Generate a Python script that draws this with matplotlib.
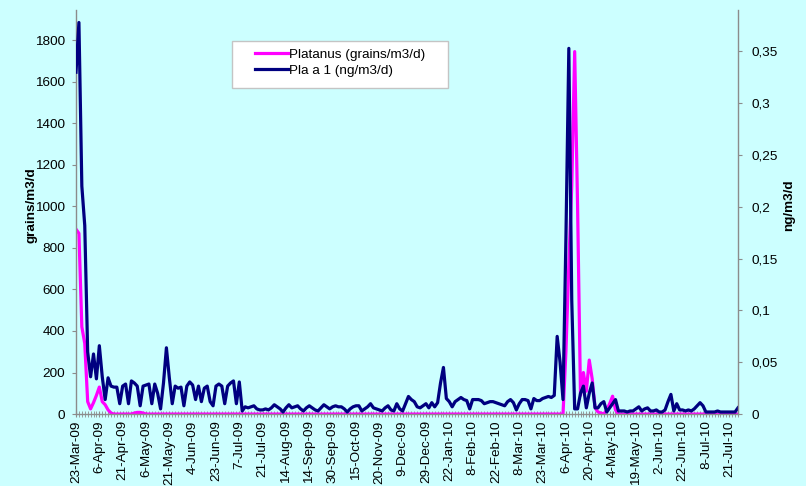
import matplotlib
matplotlib.use("Agg")
import matplotlib.pyplot as plt
from matplotlib.patches import Rectangle

plt.rcParams['font.family'] = ['Liberation Sans', 'DejaVu Sans']

# Colours
bg_color = '#CCFFFF'
axis_color = '#8C8C8C'
platanus_color = '#FF00FF'
pla_color = '#000080'

# Category labels shown every 8th sample
date_labels = ['23-Mar-09', '6-Apr-09', '21-Apr-09', '6-May-09', '21-May-09', '4-Jun-09',
               '23-Jun-09', '7-Jul-09', '21-Jul-09', '14-Aug-09', '14-Sep-09', '30-Sep-09',
               '15-Oct-09', '20-Nov-09', '9-Dec-09', '29-Dec-09', '22-Jan-10', '8-Feb-10',
               '22-Feb-10', '8-Mar-10', '23-Mar-10', '6-Apr-10', '20-Apr-10', '4-May-10',
               '19-May-10', '2-Jun-10', '22-Jun-10', '8-Jul-10', '21-Jul-10']
label_step = 8

# Platanus pollen (grains/m3/d), left axis
platanus = [
    890, 870, 420, 340, 60, 25, 55, 90, 130, 60, 45, 20, 5, 0, 0, 0,
    0, 0, 0, 0, 5, 8, 8, 5, 0, 0, 0, 0, 0, 0, 0, 0,
    0, 0, 0, 0, 0, 0, 0, 0, 0, 0, 0, 0, 0, 0, 0, 0,
    0, 0, 0, 0, 0, 0, 0, 0, 0, 0, 0, 0, 0, 0, 0, 0,
    0, 0, 0, 0, 0, 0, 0, 0, 0, 0, 0, 0, 0, 0, 0, 0,
    0, 0, 0, 0, 0, 0, 0, 0, 0, 0, 0, 0, 0, 0, 0, 0,
    0, 0, 0, 0, 0, 0, 0, 0, 0, 0, 0, 0, 0, 0, 0, 0,
    0, 0, 0, 0, 0, 0, 0, 0, 0, 0, 0, 0, 0, 0, 0, 0,
    0, 0, 0, 0, 0, 0, 0, 0, 0, 0, 0, 0, 0, 0, 0, 0,
    0, 0, 0, 0, 0, 0, 0, 0, 0, 0, 0, 0, 0, 0, 0, 0,
    0, 0, 0, 0, 0, 0, 0, 0, 300, 720, 1100, 1745, 1000, 90, 200, 110,
    260, 170, 30, 10, 5, 0, 20, 50, 86, 20, 0, 0, 0, 0, 0, 0,
    0, 0, 0, 0, 0, 0, 0, 0, 0, 0, 0, 0, 0, 0, 0, 0,
    0, 0, 0, 0, 0, 0, 0, 0, 0, 0, 0, 0, 0, 0, 0, 0,
    0, 0, 0, 0,
]

# Pla a 1 allergen (ng/m3/d), right axis
pla_a1 = [
    0.330, 0.378, 0.220, 0.182, 0.060, 0.036, 0.058, 0.034, 0.066, 0.036, 0.014, 0.035, 0.027, 0.026, 0.026, 0.010,
    0.027, 0.029, 0.010, 0.032, 0.030, 0.027, 0.008, 0.027, 0.028, 0.029, 0.010, 0.029, 0.020, 0.005, 0.030, 0.064,
    0.035, 0.010, 0.027, 0.025, 0.026, 0.008, 0.027, 0.031, 0.028, 0.014, 0.027, 0.012, 0.025, 0.027, 0.012, 0.008,
    0.027, 0.029, 0.027, 0.010, 0.027, 0.030, 0.032, 0.010, 0.031, 0.003, 0.007, 0.006, 0.007, 0.008, 0.005, 0.004,
    0.004, 0.005, 0.004, 0.006, 0.009, 0.007, 0.005, 0.002, 0.006, 0.009, 0.006, 0.007, 0.008, 0.005, 0.003, 0.006,
    0.008, 0.006, 0.004, 0.003, 0.006, 0.009, 0.007, 0.005, 0.007, 0.008, 0.007, 0.007, 0.005, 0.002, 0.005, 0.007,
    0.008, 0.008, 0.003, 0.005, 0.007, 0.010, 0.006, 0.005, 0.004, 0.003, 0.006, 0.008, 0.004, 0.003, 0.010, 0.005,
    0.003, 0.010, 0.017, 0.014, 0.012, 0.007, 0.006, 0.008, 0.010, 0.006, 0.011, 0.007, 0.011, 0.030, 0.045, 0.015,
    0.012, 0.007, 0.012, 0.014, 0.016, 0.014, 0.013, 0.005, 0.014, 0.014, 0.014, 0.013, 0.010, 0.011, 0.012, 0.012,
    0.011, 0.010, 0.009, 0.008, 0.012, 0.014, 0.011, 0.004, 0.010, 0.014, 0.014, 0.013, 0.005, 0.015, 0.013, 0.013,
    0.015, 0.016, 0.017, 0.016, 0.018, 0.075, 0.050, 0.014, 0.170, 0.353, 0.110, 0.005, 0.005, 0.020, 0.027, 0.006,
    0.020, 0.030, 0.006, 0.006, 0.010, 0.012, 0.002, 0.006, 0.010, 0.014, 0.003, 0.003, 0.003, 0.002, 0.003, 0.003,
    0.005, 0.007, 0.003, 0.005, 0.006, 0.003, 0.003, 0.004, 0.002, 0.002, 0.004, 0.012, 0.019, 0.003, 0.010, 0.004,
    0.004, 0.003, 0.004, 0.003, 0.005, 0.008, 0.011, 0.008, 0.002, 0.002, 0.002, 0.002, 0.003, 0.002, 0.002, 0.002,
    0.002, 0.002, 0.002, 0.006,
]

left_ticks = [0, 200, 400, 600, 800, 1000, 1200, 1400, 1600, 1800]
right_ticks = [0, 0.05, 0.1, 0.15, 0.2, 0.25, 0.3, 0.35]
right_tick_labels = ['0', '0,05', '0,1', '0,15', '0,2', '0,25', '0,3', '0,35']

x = list(range(len(platanus)))

fig = plt.figure(figsize=(8.06, 4.86), dpi=100, facecolor=bg_color)
ax = fig.add_axes([0.0943, 0.148, 0.8213, 0.8313])
ax.set_facecolor(bg_color)
ax2 = ax.twinx()

line1, = ax.plot(x, platanus, color=platanus_color, linewidth=2.3,
                 solid_joinstyle='round', label='Platanus (grains/m3/d)')
line2, = ax2.plot(x, pla_a1, color=pla_color, linewidth=2.3,
                  solid_joinstyle='round', label='Pla a 1 (ng/m3/d)')

ax.set_xlim(0, len(x) - 1)
ax.set_ylim(0, 1945)
ax2.set_ylim(0, 0.39)

# spines
for a in (ax, ax2):
    a.spines['top'].set_visible(False)
ax2.spines['left'].set_visible(False)
ax2.spines['bottom'].set_visible(False)
ax.spines['right'].set_visible(False)
for s in (ax.spines['left'], ax.spines['bottom'], ax2.spines['right']):
    s.set_color(axis_color)
    s.set_linewidth(1.0)

# x axis: one small tick per sample, a label every 8th
ax.set_xticks(x[::label_step], date_labels, rotation=90, fontsize=9.7)
ax.set_xticks(x, minor=True)
ax.tick_params(axis='x', which='both', direction='inout', length=5, color=axis_color, pad=2)

ax.set_yticks(left_ticks, [str(t) for t in left_ticks])
ax.tick_params(axis='y', direction='out', length=3, color=axis_color, labelsize=9.7, pad=5)
ax2.set_yticks(right_ticks, right_tick_labels)
ax2.tick_params(axis='y', direction='out', length=3, color=axis_color, labelsize=9.7, pad=7)

ax.set_ylabel('grains/m3/d', fontsize=9.7, fontweight='bold')
ax.yaxis.set_label_coords(-0.058, 0.517)
ax2.set_ylabel('ng/m3/d', fontsize=9.7, fontweight='bold')
ax2.yaxis.set_label_coords(1.068, 0.517)

# legend box drawn by hand, entries on top of it
box = Rectangle((0.2357, 0.807), 0.3263, 0.1163, transform=ax2.transAxes,
                facecolor='white', edgecolor='#C4C4C4', linewidth=1.0, zorder=4, clip_on=False)
ax2.add_patch(box)
leg = ax2.legend([line1, line2], [line1.get_label(), line2.get_label()],
                 loc='center left', bbox_to_anchor=(0.2704, 0.870), frameon=False,
                 borderpad=0, borderaxespad=0, handlelength=2.45, handletextpad=0.1,
                 labelspacing=0.26, fontsize=9.7)
leg.set_zorder(5)

plt.savefig('out.png', dpi=100, facecolor=bg_color)
plt.close()
